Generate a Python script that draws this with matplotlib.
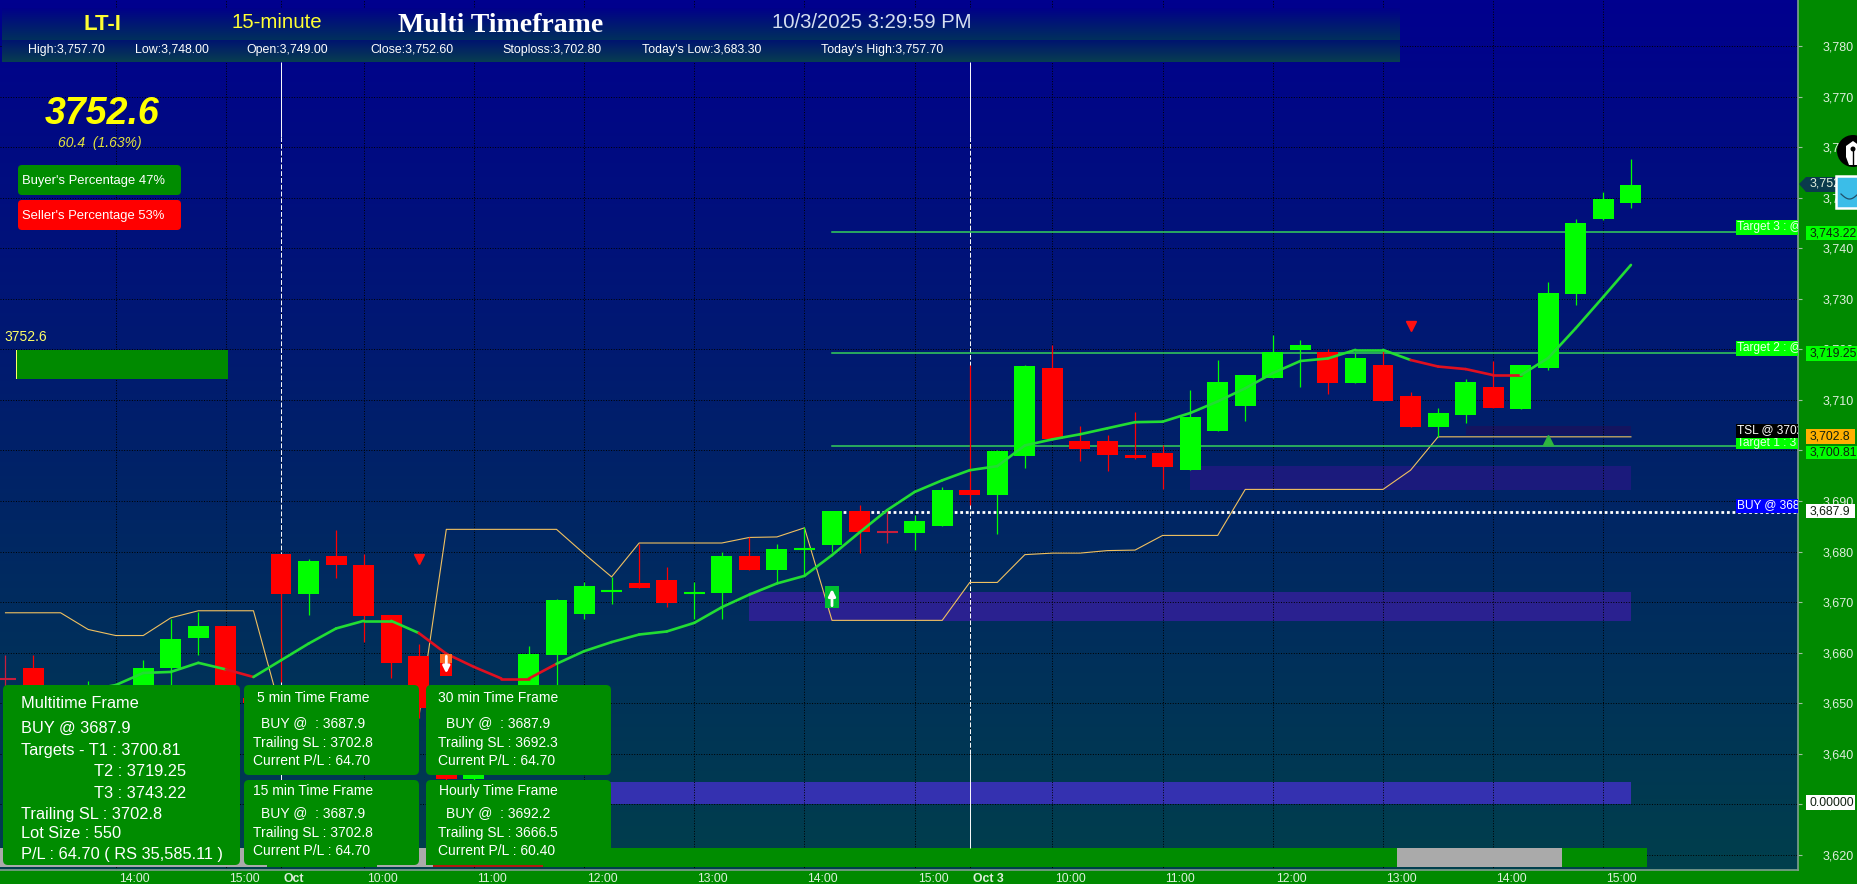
import numpy as np
import matplotlib
matplotlib.use("Agg")
import matplotlib.pyplot as plt
from matplotlib.colors import LinearSegmentedColormap
from matplotlib.patches import Rectangle, FancyBboxPatch, Polygon, Circle
from matplotlib.transforms import ScaledTranslation

plt.rcParams['font.family'] = ['Liberation Sans', 'DejaVu Sans']

# candles, 15 min, index 10 = 1 Oct 9:15, index 35 = 3 Oct 9:15
opens = [3654.95, 3657.0, 3650.0, 3651.0, 3651.0, 3652.0, 3656.9, 3662.9, 3665.3, 3651.0,
         3679.5, 3671.7, 3679.1, 3677.4, 3667.5, 3659.4, 3649.0, 3635.0, 3640.0, 3645.0,
         3659.6, 3667.7, 3672.3, 3673.8, 3674.4, 3671.9, 3671.8, 3679.1, 3676.4, 3680.6,
         3681.4, 3688.0, 3684.0, 3683.6, 3685.1, 3692.1, 3691.1, 3699.0, 3716.3, 3701.9,
         3701.9, 3699.2, 3699.5, 3696.2, 3703.9, 3708.7, 3714.4, 3719.9, 3719.5, 3713.4,
         3716.9, 3710.8, 3704.7, 3707.0, 3712.6, 3708.3, 3716.4, 3731.0, 3745.8, 3749.0]
closes = [3654.9, 3651.0, 3651.0, 3653.0, 3653.0, 3657.0, 3662.7, 3665.3, 3651.6, 3650.0,
          3671.7, 3678.1, 3677.4, 3667.3, 3658.0, 3649.1, 3635.1, 3638.4, 3645.0, 3659.8,
          3670.4, 3673.2, 3672.3, 3672.8, 3669.8, 3671.9, 3679.1, 3676.4, 3680.5, 3680.6,
          3688.0, 3683.9, 3683.9, 3686.1, 3692.1, 3691.1, 3699.9, 3716.7, 3702.3, 3700.2,
          3699.2, 3698.6, 3696.8, 3706.6, 3713.5, 3714.9, 3719.5, 3720.9, 3713.4, 3718.3,
          3709.8, 3704.7, 3707.4, 3713.5, 3708.5, 3716.9, 3731.1, 3745.0, 3749.7, 3752.6]
highs = [3659.5, 3659.5, 3652.0, 3654.4, 3653.4, 3658.5, 3666.7, 3668.1, 3665.3, 3652.0,
         3679.5, 3678.6, 3684.2, 3679.6, 3667.5, 3661.8, 3649.5, 3639.0, 3646.0, 3661.3,
         3670.6, 3673.9, 3675.0, 3681.6, 3677.0, 3674.0, 3679.9, 3682.9, 3681.6, 3684.9,
         3688.0, 3689.3, 3688.2, 3687.3, 3692.8, 3716.9, 3700.0, 3717.0, 3720.8, 3704.8,
         3703.1, 3707.7, 3701.0, 3712.0, 3717.9, 3714.9, 3722.8, 3721.9, 3720.0, 3719.2,
         3720.0, 3711.6, 3708.4, 3714.2, 3717.6, 3716.9, 3733.4, 3745.8, 3751.2, 3757.7]
lows = [3653.5, 3649.0, 3649.0, 3650.0, 3650.0, 3650.0, 3653.5, 3659.5, 3650.0, 3648.0,
        3654.2, 3667.5, 3674.8, 3662.1, 3655.0, 3647.1, 3634.5, 3634.0, 3639.0, 3644.0,
        3653.5, 3666.7, 3669.7, 3672.8, 3669.0, 3666.6, 3666.6, 3676.4, 3674.0, 3675.3,
        3679.9, 3679.7, 3681.7, 3680.4, 3685.1, 3689.2, 3683.4, 3696.5, 3702.3, 3697.9,
        3695.9, 3698.3, 3692.3, 3696.2, 3703.9, 3705.9, 3714.4, 3712.6, 3711.2, 3713.4,
        3709.8, 3704.7, 3702.7, 3705.5, 3708.5, 3708.3, 3715.9, 3728.8, 3745.5, 3748.0]

# moving average, starts at candle 3
ema_start = 3
ema = [3652.6, 3653.6, 3656.0, 3656.2, 3658.0, 3656.7, 3655.2, 3658.5, 3661.8, 3664.8,
       3666.3, 3666.3, 3663.9, 3659.8, 3657.2, 3654.9, 3654.9, 3657.8, 3660.3, 3662.1,
       3663.6, 3664.2, 3665.9, 3669.0, 3671.5, 3673.7, 3675.2, 3679.3, 3683.8, 3688.2,
       3691.8, 3694.1, 3696.1, 3696.9, 3701.0, 3702.2, 3703.2, 3704.4, 3705.6, 3705.7,
       3707.4, 3709.7, 3712.3, 3715.3, 3717.7, 3718.2, 3719.9, 3719.9, 3717.9, 3716.6,
       3716.1, 3714.9, 3714.9, 3718.3, 3724.2, 3730.4, 3736.7]
ema_red_ranges = [(7.6, 9), (14.6, 19.5), (51, 55)]

# gold trailing stop line
tsl = [3667.9, 3667.9, 3667.9, 3664.6, 3663.4, 3663.4, 3666.9, 3668.3, 3668.3, 3668.3,
       3648.3, 3647.0, 3647.0, 3647.0, 3647.0, 3647.1, 3684.4, 3684.4, 3684.4, 3684.4,
       3684.4, 3679.6, 3675.0, 3681.7, 3681.7, 3681.7, 3681.7, 3682.8, 3682.9, 3684.7,
       3666.4, 3666.4, 3666.4, 3666.4, 3666.4, 3673.9, 3673.9, 3679.4, 3679.7, 3679.7,
       3680.2, 3680.3, 3683.2, 3683.2, 3683.2, 3692.3, 3692.3, 3692.3, 3692.3, 3692.3,
       3692.3, 3696.1, 3702.7, 3702.7, 3702.7, 3702.7, 3702.7, 3702.7, 3702.7, 3702.7]

# zones: low, high, first candle, colour
zone_lows = [3703.0, 3692.2, 3666.3, 3630.0]
zone_highs = [3704.9, 3696.9, 3672.0, 3634.4]
zone_starts = [53, 43, 27, 20]
zone_colors = ['#14145f', '#1b1a7c', '#2a2190', '#3431b0']

target_prices = [3700.81, 3719.25, 3743.22]
buy_price = 3687.9
level_start = 30

# bottom ribbon
ribbon_edges = [-0.5, 9.5, 13.5, 15.5, 19.5, 50.5, 56.5, 59.6]
ribbon_colors = ['#aaaaaa', '#008c00', '#aaaaaa', '#b01c10', '#008c00', '#aaaaaa', '#008c00']

tick_idx = [4, 8, 10, 13, 17, 21, 25, 29, 33, 35, 38, 42, 46, 50, 54, 58]
tick_labels = ['14:00', '15:00', 'Oct', '10:00', '11:00', '12:00', '13:00', '14:00', '15:00',
               'Oct 3', '10:00', '11:00', '12:00', '13:00', '14:00', '15:00']
y_ticks = list(range(3620, 3790, 10))

header_stats = ['High:3,757.70', 'Low:3,748.00', 'Open:3,749.00', 'Close:3,752.60',
                'Stoploss:3,702.80', "Today's Low:3,683.30", "Today's High:3,757.70"]
header_x = [28, 135, 246, 370, 502, 642, 821]

W, H = 1858, 884
BAND = '#008a00'
GREEN = '#00ff00'
RED = '#ff0000'
PANEL = '#008c00'

# pixel <-> data, from the axis labels of the picture
px_per_bar = 27.55
px_per_unit = 5.056
x_left = 10 - 281 / px_per_bar
x_right = 10 + (1798 - 281) / px_per_bar
y_top = 3780 + 46 / px_per_unit
y_bottom = 3780 - (870 - 46) / px_per_unit

fig = plt.figure(figsize=(W / 100, H / 100), dpi=100, facecolor=BAND)
ax = fig.add_axes([0, 1 - 870 / H, 1798 / W, 870 / H])

cmap = LinearSegmentedColormap.from_list('bg', ['#00008e', '#00206a', '#003f4c'])
grad = np.linspace(0, 1, 256).reshape(-1, 1)
ax.imshow(grad, cmap=cmap, aspect='auto', extent=(x_left, x_right, y_bottom, y_top), zorder=0)

ax.set_xlim(x_left, x_right)
ax.set_ylim(y_bottom, y_top)
ax.set_axisbelow('line')
ax.grid(True, color='black', linestyle=':', linewidth=0.7)

ax.yaxis.tick_right()
ax.set_yticks(y_ticks, ['{:,}'.format(v) for v in y_ticks])
ax.tick_params(axis='y', colors='#dfeedd', labelsize=9, length=3, pad=15, color='#9fbf9f')
ax.set_xticks(tick_idx, tick_labels)
ax.tick_params(axis='x', colors='#dfeedd', labelsize=8.8, length=0, pad=2)
shift = ScaledTranslation(3 / 100, 0, fig.dpi_scale_trans)
for lab, txt in zip(ax.get_xticklabels(), tick_labels):
    lab.set_ha('left')
    lab.set_transform(lab.get_transform() + shift)
    if txt.startswith('Oct'):
        lab.set_fontweight('bold')
for name in ['top', 'left']:
    ax.spines[name].set_visible(False)
for name in ['right', 'bottom']:
    ax.spines[name].set_color('#7f9f8f')
    ax.spines[name].set_linewidth(1.2)

# zones
last = len(opens) - 1
for lo, hi, st, c in zip(zone_lows, zone_highs, zone_starts, zone_colors):
    ax.add_patch(Rectangle((st, lo), last - st, hi - lo, color=c, lw=0, zorder=1))

# ribbon
rib_lo = 3780 - (867 - 46) / px_per_unit
rib_hi = 3780 - (848 - 46) / px_per_unit
for a, b, c in zip(ribbon_edges[:-1], ribbon_edges[1:], ribbon_colors):
    ax.add_patch(Rectangle((a, rib_lo), b - a, rib_hi - rib_lo, color=c, lw=0, zorder=2))

# day lines
for d in [10, 35]:
    ax.vlines(d, 3762, y_top - 62 / px_per_unit, color='white', lw=0.7, zorder=2.1)
    ax.vlines(d, 3640, 3762, color='white', lw=0.7, linestyles=(0, (5, 2)), zorder=2.1)
    ax.vlines(d, rib_hi, 3640, color='white', lw=0.7, zorder=2.1)

# gold line
ax.plot(range(len(tsl)), tsl, color='#f0c060', lw=0.8, zorder=2.5)

# target and buy levels
for p in target_prices:
    ax.plot([level_start, x_right], [p, p], color='#35d05a', lw=1.1, zorder=2.6)
ax.plot([level_start, x_right], [buy_price, buy_price], color='white', lw=2,
        linestyle=(0, (1, 1)), zorder=2.6)

# candles
for i in range(len(opens)):
    o, c = opens[i], closes[i]
    col = GREEN if c >= o else RED
    if abs(o - c) < 0.2 and c < o:
        col = '#c81e3c'
    ax.vlines(i, lows[i], highs[i], color=col, lw=0.9, zorder=3)
    if abs(o - c) < 0.2:
        ax.hlines(c, i - 0.38, i + 0.38, color=col, lw=1.5, zorder=3.1)
    else:
        ax.bar(i, abs(c - o), bottom=min(o, c), width=0.76, color=col, lw=0, zorder=3.1)

# moving average
ema_x = np.arange(ema_start, ema_start + len(ema))
for k in range(len(ema) - 1):
    mid = ema_x[k] + 0.5
    col = '#22dd33'
    for a, b in ema_red_ranges:
        if a <= mid <= b:
            col = '#e01020'
    ax.plot(ema_x[k:k + 2], ema[k:k + 2], color=col, lw=1.9, zorder=3.5, solid_capstyle='round')

# signal markers
ax.plot([15, 51], [3678.6, 3724.7], linestyle='none', marker='v', color='#ff1010', ms=7.5, zorder=4)
ax.plot([56], [3702.1], linestyle='none', marker='^', color='#2fb53f', ms=7.5, zorder=4)
ax.add_patch(Rectangle((15.78, 3658.0), 0.44, 1.8, color='#ff6a20', lw=0, zorder=4))
ax.add_patch(Rectangle((15.78, 3655.4), 0.44, 2.6, color='#ff0000', lw=0, zorder=4))
ax.annotate('', xy=(16, 3655.9), xytext=(16, 3659.3), zorder=5,
            arrowprops=dict(arrowstyle='-|>', color='white', lw=2, shrinkA=0, shrinkB=0))
ax.add_patch(Rectangle((29.76, 3668.9), 0.48, 4.3, color='#00c030', lw=0, zorder=4))
ax.annotate('', xy=(30, 3672.6), xytext=(30, 3669.3), zorder=5,
            arrowprops=dict(arrowstyle='-|>', color='white', lw=2, shrinkA=0, shrinkB=0))

# everything else sits on top in picture pixels
ov = fig.add_axes([0, 0, 1, 1], zorder=10)
ov.set_xlim(0, W)
ov.set_ylim(H, 0)
ov.axis('off')


def gradient_box(x0, y0, x1, y1, c0, c1):
    m = LinearSegmentedColormap.from_list('g', [c0, c1])
    ov.imshow(grad, cmap=m, aspect='auto', extent=(x0, x1, y1, y0), zorder=1)


def rounded(x0, y0, x1, y1, col, r=4, z=2):
    ov.add_patch(FancyBboxPatch((x0 + r, y0 + r), x1 - x0 - 2 * r, y1 - y0 - 2 * r,
                                boxstyle='round,pad=%d' % r, fc=col, ec='none', zorder=z))


def box(x0, y0, x1, y1, col, z=3):
    r = Rectangle((x0, y0), x1 - x0, y1 - y0, fc=col, ec='none', zorder=z)
    ov.add_patch(r)
    return r


def label(x, y, s, size=9, col='white', z=5, **kw):
    kw.setdefault('va', 'center')
    return ov.text(x, y, s, fontsize=size, color=col, zorder=z, **kw)


# header
gradient_box(2, 8, 1400, 40, '#00008a', '#00305c')
gradient_box(2, 40, 1400, 62, '#001470', '#083e50')
ov.set_xlim(0, W)
ov.set_ylim(H, 0)
label(102, 25, 'LT-I', 16, '#ffff33', ha='center', fontweight='bold')
label(277, 23, '15-minute', 14.7, '#ffff33', ha='center')
label(501, 26, 'Multi Timeframe', 20, 'white', ha='center', fontweight='bold', family='Liberation Serif')
label(872, 23, '10/3/2025 3:29:59 PM', 14.6, '#d5dff0', ha='center')
for x, s in zip(header_x, header_stats):
    label(x, 50, s, 8.9, 'white')

# price block top left
label(102, 114, '3752.6', 27, '#ffff00', ha='center', fontweight='bold', style='italic')
label(100, 143, '60.4  (1.63%)', 10, '#e4e43c', ha='center', style='italic')
rounded(18, 165, 181, 195, PANEL)
label(22.5, 181, "Buyer's Percentage 47%", 9.4)
rounded(18, 200, 181, 230, RED)
label(22.5, 216, "Seller's Percentage 53%", 9.4)
label(4, 337, '3752.6', 10, '#ffff66')
box(16, 350, 228, 379, BAND)
box(16, 350, 17, 379, '#ffff66', z=4)

# multi timeframe panels
rounded(3, 685, 240, 865, PANEL, r=5)
rounded(244, 685, 419, 775, PANEL, r=5)
rounded(426, 685, 611, 775, PANEL, r=5)
rounded(244, 780, 419, 865, PANEL, r=5)
rounded(426, 780, 611, 865, PANEL, r=5)
box(426, 850, 611, 865, PANEL)

for x, y, s in [(21, 704, 'Multitime Frame'), (21, 728, 'BUY @ 3687.9'),
                (21, 751, 'Targets - T1 : 3700.81'), (94, 771, 'T2 : 3719.25'),
                (94, 793, 'T3 : 3743.22'), (21, 814, 'Trailing SL : 3702.8'),
                (21, 834, 'Lot Size : 550'), (21, 854, 'P/L : 64.70 ( RS 35,585.11 )')]:
    label(x, y, s, 11.8)

for x, y, s in [(257, 698, '5 min Time Frame'), (261, 723, 'BUY @  : 3687.9'),
                (253, 743, 'Trailing SL : 3702.8'), (253, 761, 'Current P/L : 64.70'),
                (438, 698, '30 min Time Frame'), (446, 723, 'BUY @  : 3687.9'),
                (438, 743, 'Trailing SL : 3692.3'), (438, 761, 'Current P/L : 64.70'),
                (253, 791, '15 min Time Frame'), (261, 813, 'BUY @  : 3687.9'),
                (253, 833, 'Trailing SL : 3702.8'), (253, 851, 'Current P/L : 64.70'),
                (439, 791, 'Hourly Time Frame'), (446, 813, 'BUY @  : 3692.2'),
                (438, 833, 'Trailing SL : 3666.5'), (438, 851, 'Current P/L : 60.40')]:
    label(x, y, s, 10)

# level flags at the right of the plot
for y0, y1, col, s in [(220, 235, GREEN, 'Target 3 : @ 3743.22'), (341, 356, GREEN, 'Target 2 : @ 3719.25'),
                       (438, 449, GREEN, 'Target 1 : 3700.81'), (424, 438, 'black', 'TSL @ 3702.8'),
                       (499, 513, '#0000ff', 'BUY @ 3687.9')]:
    r = box(1736, y0, 1798, y1, col, z=3 if col == GREEN else 3.2)
    t = label(1737, (y0 + y1) / 2 - 0.5, s, 8.6, 'white' if col != GREEN else '#e8ffe8',
              z=3.1 if col == GREEN else 3.3, clip_on=True)
    t.set_clip_path(r)

# price flags on the axis band
for y0, y1, x1, col, s in [(226, 240, 1858, GREEN, '3,743.22'), (346, 361, 1858, GREEN, '3,719.25'),
                           (429, 444, 1855, '#ffb000', '3,702.8'), (446, 459, 1858, GREEN, '3,700.81'),
                           (504, 518, 1855, 'white', '3,687.9'), (795, 810, 1855, 'white', '0.00000')]:
    box(1806, y0, x1, y1, col)
    label(1810, (y0 + y1) / 2, s, 8.7, '#102010')

# current price tag and the two page icons over the axis
ov.add_patch(Polygon([(1799, 184), (1806, 177), (1838, 177), (1838, 192), (1806, 192)],
                     fc='#0a3a4c', ec='none', zorder=3))
label(1810, 184, '3,752.6', 9, '#dfeedd', z=3.5)
ov.add_patch(Circle((1853, 151), 16, fc='black', ec='none', zorder=6))
ov.add_patch(Polygon([(1846, 146), (1853, 141), (1860, 146), (1860, 157), (1857, 165), (1849, 165), (1846, 157)],
                     fc='white', ec='none', zorder=6.5))
ov.add_patch(Circle((1853, 149), 2.5, fc='black', ec='none', zorder=7))
ov.plot([1853, 1853], [149, 165], color='black', lw=1, zorder=7)
box(1836.5, 176, 1860, 208, '#3bbde8', z=6).set(ec='white', lw=1.8)
sm = np.linspace(1841, 1858, 20)
ov.plot(sm, 194 + 5 * np.sin((sm - 1841) / 17 * np.pi), color='#20506a', lw=0.9, zorder=7)

fig.savefig('out.png', dpi=100, facecolor=fig.get_facecolor())
